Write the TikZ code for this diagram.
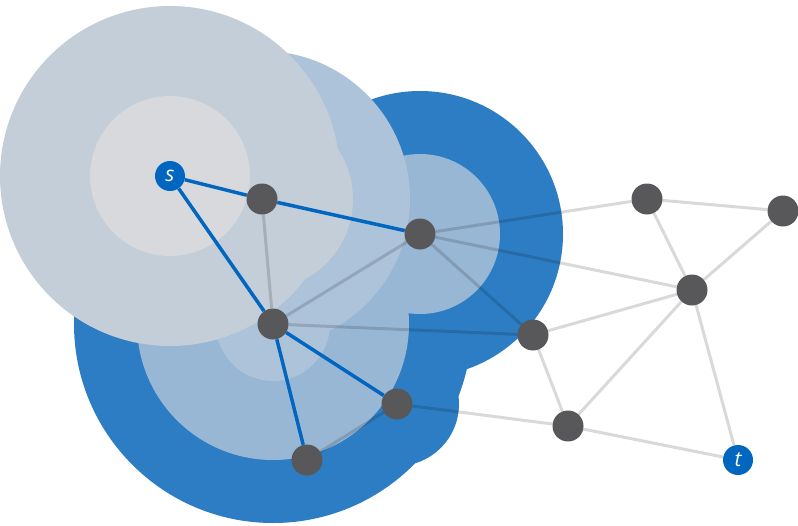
\documentclass[tikz,border=0pt]{standalone}
\usepackage{fontspec}
\setmainfont{Open Sans}
\begin{document}
\begin{tikzpicture}[x=1pt,y=-1pt,
  vtx/.style={circle,fill=nodegray,minimum size=31pt,inner sep=0pt},
  term/.style={circle,fill=treeblue,minimum size=30pt,inner sep=0pt,text=white,font=\fontsize{21}{21}\selectfont\itshape},
  edge/.style={line width=3pt,black,opacity=0.15},
  tree/.style={line width=3.5pt,treeblue},
]
\definecolor{nodegray}{HTML}{58585B}
\definecolor{treeblue}{HTML}{0066BF}
\definecolor{layA}{HTML}{2D7DC4}
\definecolor{layB}{HTML}{98B7D4}
\definecolor{layC}{HTML}{ADC3D9}
\definecolor{layD}{HTML}{C3CED9}
\definecolor{layE}{HTML}{D7D9DC}
\useasboundingbox (0,0) rectangle (798,525);
% coordinates
\coordinate (S) at (170,176);
\coordinate (A) at (262,199);
\coordinate (B) at (420,234);
\coordinate (C) at (273,324);
\coordinate (D) at (533,335);
\coordinate (E) at (397,404);
\coordinate (F) at (307,460);
\coordinate (G) at (568,426);
\coordinate (H) at (647,199);
\coordinate (I) at (783,211);
\coordinate (J) at (692,290);
\coordinate (T) at (738,460);
% layers
\fill[layA] (C) circle (199) (B) circle (143) (E) circle (62);
\fill[layB] (C) circle (136) (B) circle (80);
\fill[layC] (A) circle (148) (C) circle (57);
\fill[layD] (S) circle (170) (A) circle (91);
\fill[layE] (S) circle (80);
% nodes
\node[term] (s) at (S) {s};
\node[vtx] (a) at (A) {};
\node[vtx] (b) at (B) {};
\node[vtx] (c) at (C) {};
\node[vtx] (d) at (D) {};
\node[vtx] (e) at (E) {};
\node[vtx] (f) at (F) {};
\node[vtx] (g) at (G) {};
\node[vtx] (h) at (H) {};
\node[vtx] (i) at (I) {};
\node[vtx] (j) at (J) {};
\node[term] (t) at (T) {t};
% gray edges
\draw[edge] (a) -- (c);
\draw[edge] (c) -- (b);
\draw[edge] (c) -- (d);
\draw[edge] (b) -- (h);
\draw[edge] (b) -- (j);
\draw[edge] (b) -- (d);
\draw[edge] (d) -- (j);
\draw[edge] (d) -- (g);
\draw[edge] (g) -- (j);
\draw[edge] (h) -- (j);
\draw[edge] (h) -- (i);
\draw[edge] (i) -- (j);
\draw[edge] (j) -- (t);
\draw[edge] (g) -- (t);
\draw[edge] (e) -- (g);
\draw[edge] (e) -- (f);
% tree edges
\draw[tree] (s) -- (a);
\draw[tree] (a) -- (b);
\draw[tree] (s) -- (c);
\draw[tree] (c) -- (e);
\draw[tree] (c) -- (f);
\end{tikzpicture}
\end{document}
